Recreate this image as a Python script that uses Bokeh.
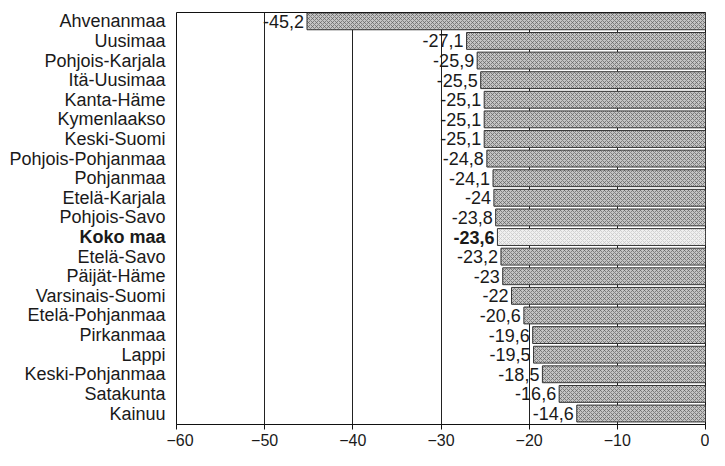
from bokeh.plotting import figure
from bokeh.layouts import row
from bokeh.models import ColumnDataSource, Range1d, FixedTicker
from bokeh.core.properties import value
from bokeh.embed import file_html
from bokeh.resources import INLINE

regions = ["Ahvenanmaa", "Uusimaa", "Pohjois-Karjala", "Itä-Uusimaa", "Kanta-Häme",
           "Kymenlaakso", "Keski-Suomi", "Pohjois-Pohjanmaa", "Pohjanmaa", "Etelä-Karjala",
           "Pohjois-Savo", "Koko maa", "Etelä-Savo", "Päijät-Häme", "Varsinais-Suomi",
           "Etelä-Pohjanmaa", "Pirkanmaa", "Lappi", "Keski-Pohjanmaa", "Satakunta", "Kainuu"]
values = [-45.2, -27.1, -25.9, -25.5, -25.1, -25.1, -25.1, -24.8, -24.1, -24.0,
          -23.8, -23.6, -23.2, -23.0, -22.0, -20.6, -19.6, -19.5, -18.5, -16.6, -14.6]
x_ticks = [-60, -50, -40, -30, -20, -10, 0]
total_name = "Koko maa"

FONT = "Liberation Sans"
TXT = "#1a1a1a"
n = len(regions)
ypos = [n - 1 - i for i in range(n)]
labels = [f"{v:g}".replace(".", ",") for v in values]
is_total = [r == total_name for r in regions]

src = ColumnDataSource(dict(
    y=ypos, v=values, lab=labels, name=regions, one=[1] * n,
    fill=["#f0f0f0" if t else "#c4c4c4" for t in is_total],
    hatch=["#c4c4c4" if t else "#606060" for t in is_total],
    style=["bold" if t else "normal" for t in is_total],
))

y_range = Range1d(-0.56, n - 1 + 0.45)
FRAME_H = 412
TOP = 12

# left panel: category names (row aligns its frame with the chart's frame)
lp = figure(frame_width=166, frame_height=FRAME_H, output_backend="svg", toolbar_location=None,
            x_range=Range1d(0, 1), y_range=y_range,
            x_axis_location=None, y_axis_location=None,
            min_border_left=0, min_border_right=0, min_border_top=TOP, min_border_bottom=0)
lp.outline_line_color = None
lp.xgrid.grid_line_color = None
lp.ygrid.grid_line_color = None
lp.background_fill_color = "white"
lp.border_fill_color = "white"
lp.text(x="one", y="y", text="name", source=src, x_offset=-1,
        text_align="right", text_baseline="middle",
        text_font=value(FONT), text_font_size="18px", text_font_style="style",
        text_color=TXT)

# main chart
p = figure(frame_width=529, frame_height=FRAME_H, output_backend="svg", toolbar_location=None,
           x_range=Range1d(-60, 0), y_range=y_range, y_axis_location=None,
           min_border_left=10, min_border_right=4, min_border_top=TOP, min_border_bottom=20)
p.background_fill_color = "white"
p.border_fill_color = "white"
p.outline_line_color = "#111111"
p.outline_line_width = 1

p.hbar(y="y", left=0, right="v", height=0.86, source=src,
       fill_color="fill", line_color="#333333", line_width=1,
       hatch_pattern="x", hatch_color="hatch", hatch_scale=4, hatch_weight=0.7)

p.text(x="v", y="y", text="lab", source=src, x_offset=-3,
       text_align="right", text_baseline="middle",
       text_font=value(FONT), text_font_size="18px", text_font_style="style",
       text_color=TXT)

p.xaxis.ticker = FixedTicker(ticks=x_ticks)
p.xaxis.major_label_text_font = FONT
p.xaxis.major_label_text_font_size = "16px"
p.xaxis.major_label_text_color = TXT
p.xaxis.major_tick_out = 5
p.xaxis.major_tick_in = 0
p.xaxis.minor_tick_line_color = None
p.xaxis.axis_line_color = "#111111"
p.xaxis.major_tick_line_color = "#111111"
p.xaxis.major_label_standoff = 4

p.xgrid.ticker = FixedTicker(ticks=x_ticks)
p.xgrid.grid_line_color = "#222222"
p.xgrid.grid_line_width = 1
p.ygrid.grid_line_color = None

layout = row(lp, p)
open("out.html", "w").write(file_html(layout, INLINE))
